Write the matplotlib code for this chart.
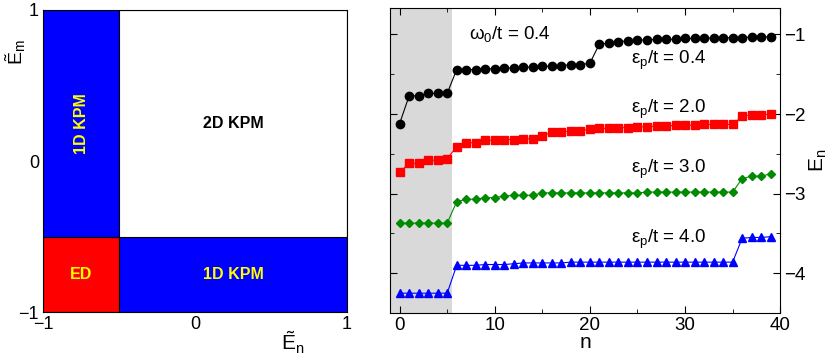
import matplotlib
matplotlib.use('Agg')
import matplotlib.pyplot as plt
from matplotlib.patches import Rectangle
from matplotlib.ticker import MultipleLocator

plt.rcParams['font.family'] = ['Liberation Sans', 'DejaVu Sans']
plt.rcParams['mathtext.fontset'] = 'custom'
plt.rcParams['mathtext.rm'] = 'Liberation Sans'
plt.rcParams['mathtext.it'] = 'Liberation Sans'

# left panel: regions of the (E_n, E_m) plane
split = -0.5
regions = [
    # x0, y0, x1, y1, colour, label, text colour, rotation
    (-1, -1, split, split, 'red', 'ED', 'yellow', 0),
    (split, -1, 1, split, 'blue', '1D KPM', 'yellow', 0),
    (-1, split, split, 1, 'blue', '1D KPM', 'yellow', 90),
    (split, split, 1, 1, 'white', '2D KPM', 'black', 0),
]

# right panel: lowest eigenvalues E_n for several eps_p/t
n = list(range(40))
E_04 = [-2.12, -1.77, -1.77, -1.74, -1.74, -1.74,
        -1.44, -1.44, -1.44, -1.43, -1.43, -1.42, -1.42, -1.41, -1.41, -1.40,
        -1.40, -1.39, -1.38, -1.38, -1.36,
        -1.12, -1.11, -1.09, -1.08, -1.07, -1.07, -1.06, -1.06, -1.06, -1.05,
        -1.05, -1.05, -1.04, -1.04, -1.04, -1.04, -1.03, -1.03, -1.03]
E_20 = [-2.73, -2.62, -2.62, -2.58, -2.58, -2.56,
        -2.41, -2.36, -2.36, -2.33, -2.33, -2.32, -2.32, -2.31, -2.31, -2.27,
        -2.23, -2.23, -2.21, -2.21, -2.19, -2.18, -2.18, -2.17, -2.17, -2.16,
        -2.16, -2.15, -2.15, -2.14, -2.14, -2.14, -2.13, -2.13, -2.13, -2.13,
        -2.03, -2.01, -2.01, -2.00]
E_30 = [-3.37, -3.37, -3.37, -3.37, -3.37, -3.37,
        -3.10, -3.07, -3.07, -3.05, -3.05, -3.03, -3.02, -3.02, -3.02, -2.99,
        -2.99, -2.99, -2.99, -2.99, -2.99, -2.99, -2.99, -2.99, -2.99, -2.99,
        -2.98, -2.98, -2.98, -2.98, -2.98, -2.98, -2.98, -2.98, -2.98, -2.98,
        -2.81, -2.78, -2.78, -2.75]
E_40 = [-4.25, -4.25, -4.25, -4.25, -4.25, -4.25,
        -3.90, -3.90, -3.90, -3.89, -3.89, -3.89, -3.88, -3.87, -3.87, -3.87,
        -3.87, -3.87, -3.86, -3.86, -3.86, -3.86, -3.86, -3.86, -3.86, -3.86,
        -3.86, -3.86, -3.86, -3.86, -3.86, -3.86, -3.86, -3.86, -3.86, -3.86,
        -3.56, -3.55, -3.55, -3.54]
series = [
    (E_04, 'black', 'o', r'$\epsilon_{\mathrm{p}}$/t = 0.4', (24.3, -1.33)),
    (E_20, 'red', 's', r'$\epsilon_{\mathrm{p}}$/t = 2.0', (24.3, -1.94)),
    (E_30, '#008a00', 'D', r'$\epsilon_{\mathrm{p}}$/t = 3.0', (24.3, -2.69)),
    (E_40, 'blue', '^', r'$\epsilon_{\mathrm{p}}$/t = 4.0', (24.3, -3.58)),
]
ed_limit = 5.5

fig = plt.figure(figsize=(8.3, 3.57), dpi=100)

ax1 = fig.add_axes([0.052, 0.126, 0.366, 0.846])
for x0, y0, x1, y1, col, lab, tcol, rot in regions:
    ax1.add_patch(Rectangle((x0, y0), x1 - x0, y1 - y0, facecolor=col,
                            edgecolor='black', linewidth=0.8))
    ax1.text((x0 + x1) / 2, (y0 + y1) / 2, lab, color=tcol, fontsize=11.5,
             fontweight='bold', rotation=rot, ha='center', va='center')
ax1.set_xlim(-1, 1)
ax1.set_ylim(-1, 1)
ax1.set_xticks([-1, 0, 1])
ax1.set_yticks([-1, 0, 1])
ax1.tick_params(length=0, labelsize=13, pad=3)
ax1.set_xlabel(r'$\tilde{\mathrm{E}}_{\mathrm{n}}$', fontsize=15)
ax1.xaxis.set_label_coords(0.82, -0.06)
ax1.set_ylabel(r'$\tilde{\mathrm{E}}_{\mathrm{m}}$', fontsize=14)
ax1.yaxis.set_label_coords(-0.05, 0.86)

ax2 = fig.add_axes([0.470, 0.123, 0.470, 0.854])
ax2.axvspan(-1, ed_limit, color='#d9d9d9', linewidth=0)
for vals, col, mk, lab, pos in series:
    ax2.plot(n, vals, color=col, marker=mk, markersize=6 if mk != 'D' else 4.5,
             linewidth=0.8)
    ax2.text(pos[0], pos[1], lab, fontsize=13.5, va='center')
ax2.text(7.3, -1.0, r'$\omega_{\mathrm{0}}$/t = 0.4', fontsize=13.5, va='center')
ax2.set_xlim(-1, 40)
ax2.set_ylim(-4.5, -0.67)
ax2.xaxis.set_major_locator(MultipleLocator(10))
ax2.xaxis.set_minor_locator(MultipleLocator(5))
ax2.yaxis.set_major_locator(MultipleLocator(1))
ax2.yaxis.set_minor_locator(MultipleLocator(0.5))
ax2.tick_params(which='both', direction='in', top=True, right=True,
                labelleft=False, labelright=True, labelsize=13.5)
ax2.tick_params(which='major', length=5, pad=3)
ax2.tick_params(which='minor', length=3)
ax2.set_xlabel('n', fontsize=15, labelpad=-1)
ax2.yaxis.set_label_position('right')
ax2.set_ylabel(r'$\mathrm{E}_{\mathrm{n}}$', fontsize=15, labelpad=1)

fig.savefig('out.png', dpi=100)
